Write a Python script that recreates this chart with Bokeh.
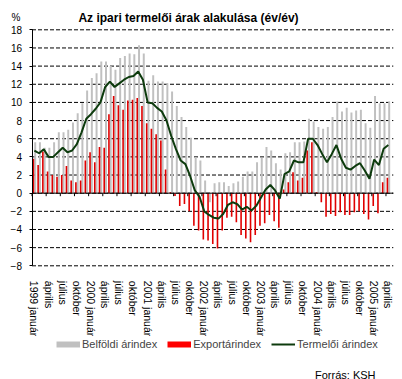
from bokeh.plotting import figure
from bokeh.models import FixedTicker, Label, Legend, LegendItem, Range1d, LinearAxis
from bokeh.embed import file_html
from bokeh.resources import INLINE

# ---- data (1999 január .. 2005 április, monthly) ----
months = list(range(76))

belfoldi = [5.6, 5.6, 5.0, 5.0, 5.6, 6.7, 6.7, 7.0, 7.8, 8.8, 9.9, 11.3,
            12.7, 13.2, 14.5, 14.5, 14.0, 13.6, 14.9, 15.1, 15.4, 15.3, 16.3, 15.4,
            12.4, 13.0, 12.3, 12.3, 12.1, 11.2, 9.6, 8.4, 7.3, 6.1, 4.0, 3.6,
            1.4, -1.0, 1.1, 1.2, 1.2, 0.8, 1.1, 1.3, 1.8, 2.4, 2.4, 3.4,
            3.9, 5.1, 4.7, 3.3, 2.6, 4.4, 4.5, 5.6, 5.6, 5.7, 8.2, 7.9,
            7.3, 7.1, 7.3, 8.4, 10.1, 9.0, 9.4, 8.9, 9.1, 9.2, 7.7, 7.2,
            10.7, 9.9, 9.9, 10.1]

export = [3.8, 3.1, 4.6, 2.4, 2.0, 1.8, 2.0, 3.0, 1.4, 1.2, 1.4, 3.6,
          4.5, 3.4, 5.1, 5.0, 8.7, 10.7, 9.7, 9.2, 10.2, 10.3, 10.5, 9.6,
          7.7, 7.1, 6.5, 5.8, 2.6, 0.1, -0.3, -1.4, -1.2, -2.0, -3.6, -4.1,
          -5.1, -5.2, -5.6, -6.1, -4.1, -2.7, -2.6, -3.2, -4.6, -5.0, -5.4, -4.6,
          -3.6, -3.3, -2.4, -3.1, -3.8, 0.4, 1.2, 2.3, 1.4, 1.7, 4.7, 5.6,
          0.1, -1.0, -2.6, -2.3, -2.5, -2.1, -2.4, -2.4, -2.1, -2.0, -2.3, -2.9,
          -1.4, -2.2, 1.2, 1.7]

termeloi = [4.7, 4.4, 4.85, 4.0, 4.0, 4.5, 5.0, 4.5, 4.7, 5.4, 6.7, 8.2,
            8.7, 9.3, 10.0, 11.7, 12.3, 11.7, 12.1, 12.5, 12.8, 12.9, 13.4, 12.5,
            10.0, 9.9, 9.4, 9.0, 8.0, 6.3, 4.85, 3.6, 3.2, 1.9, 0.3, -0.4,
            -2.0, -2.4, -2.7, -2.8, -2.3, -1.3, -1.0, -1.2, -1.8, -1.5, -1.9, -1.4,
            -0.5, 0.4, 0.9, 0.3, -0.6, 2.1, 2.4, 3.6, 3.4, 3.4, 6.0, 6.0,
            5.3, 4.3, 3.4, 4.3, 5.3, 3.8, 2.8, 2.6, 3.0, 3.3, 2.5, 1.6,
            3.7, 3.1, 4.9, 5.3]

tick_labels = ["1999 január", "április", "július", "október",
               "2000 január", "április", "július", "október",
               "2001 január", "április", "július", "október",
               "2002 január", "április", "július", "október",
               "2003 január", "április", "július", "október",
               "2004 január", "április", "július", "október",
               "2005 január", "április"]
label_months = months[::3]

y_ticks = list(range(-8, 19, 2))

# ---- layout constants (canvas pixels) ----
W, H = 402, 379
FL, FR, FT, FB = 31.5, 392.8, 29.3, 265.3     # plot-area edges on the canvas
X_LO, X_HI = -0.5, 76.05                      # data at plot-area edges
Y_LO, Y_HI = -8, 18
kx = (FR - FL) / (X_HI - X_LO)
ky = (FB - FT) / (Y_HI - Y_LO)
x_range = Range1d(X_LO - FL / kx, X_HI + (W - FR) / kx)
y_range = Range1d(Y_LO - (H - FB) / ky, Y_HI + FT / ky)

FONT = "Liberation Sans"
GRAY = "#C0C0C0"
RED = "#E00000"
GREEN = "#0D3B0D"

p = figure(width=W, height=H, x_range=x_range, y_range=y_range,
           x_axis_type=None, y_axis_type=None,
           output_backend="svg", toolbar_location=None,
           min_border=0, min_border_left=0, min_border_right=0,
           min_border_top=0, min_border_bottom=0)
p.outline_line_color = None
p.background_fill_color = "white"
p.border_fill_color = "white"

# dashed horizontal gridlines
p.segment(x0=[X_LO] * len(y_ticks), x1=[X_HI] * len(y_ticks), y0=y_ticks, y1=y_ticks,
          line_color="black", line_width=1, line_dash="4 2")

# bars
bars_g = p.vbar(x=[m + 0.18 for m in months], top=belfoldi, width=0.42,
                fill_color=GRAY, line_color=None)
bars_r = p.vbar(x=[m - 0.2 for m in months], top=export, width=0.34,
                fill_color=RED, line_color=None)

# zero line with ticks every 3 months
tick_x = [m - 0.5 for m in label_months]
p.segment(x0=[X_LO], x1=[X_HI], y0=[0], y1=[0], line_color="black", line_width=1)
p.segment(x0=tick_x, y0=[0] * len(tick_x), x1=tick_x, y1=[-3 / ky] * len(tick_x),
          line_color="black", line_width=1)

# line
line_t = p.line(months, termeloi, line_color=GREEN, line_width=2)

# y axis placed at the left edge of the plot area
yax = LinearAxis(fixed_location=X_LO, bounds=(Y_LO, Y_HI), ticker=FixedTicker(ticks=y_ticks))
yax.axis_line_color = "black"
yax.major_tick_line_color = "black"
yax.major_tick_out = 3
yax.major_tick_in = 0
yax.minor_tick_line_color = None
yax.major_label_text_font = FONT
yax.major_label_text_font_size = "10px"
yax.major_label_text_color = "black"
yax.major_label_standoff = 7
p.add_layout(yax, "left")

# x axis labels under the plot area
xax = LinearAxis(fixed_location=Y_LO, ticker=FixedTicker(ticks=label_months))
xax.major_label_overrides = {m: s for m, s in zip(label_months, tick_labels)}
xax.major_label_orientation = "vertical"
xax.axis_line_color = None
xax.major_tick_line_color = None
xax.minor_tick_line_color = None
xax.major_label_text_font = FONT
xax.major_label_text_font_size = "10.5px"
xax.major_label_text_color = "black"
xax.major_label_standoff = 9
p.add_layout(xax, "below")

# legend swatches (one-point lines: draw nothing in the plot)
lg = p.line(x=months[:1], y=belfoldi[:1], line_color=GRAY, line_width=6)
lr = p.line(x=months[:1], y=export[:1], line_color="#FF0000", line_width=6)
legend = Legend(items=[LegendItem(label="Belföldi árindex", renderers=[lg]),
                       LegendItem(label="Exportárindex", renderers=[lr]),
                       LegendItem(label="Termelői árindex", renderers=[line_t])],
                location=(56, H - 350), orientation="horizontal",
                glyph_width=24, glyph_height=12, label_height=12, label_standoff=2,
                spacing=10, padding=0, margin=0, border_line_color=None,
                background_fill_alpha=0, label_text_font=FONT, label_text_font_size="11px")
p.add_layout(legend)

# texts
p.add_layout(Label(x=188, y=H - 17, x_units="screen", y_units="screen",
                   text="Az ipari termelői árak alakulása (év/év)", text_align="center",
                   text_baseline="alphabetic", text_font=FONT, text_font_style="bold",
                   text_font_size="12px", text_color="black"))
p.add_layout(Label(x=15.5, y=H - 17, x_units="screen", y_units="screen", text="%",
                   text_align="center", text_baseline="alphabetic", text_font=FONT,
                   text_font_size="10px", text_color="black"))
p.add_layout(Label(x=375, y=H - 374, x_units="screen", y_units="screen", text="Forrás: KSH",
                   text_align="right", text_baseline="alphabetic", text_font=FONT,
                   text_font_size="11px", text_color="black"))

open("out.html", "w").write(file_html(p, INLINE))
